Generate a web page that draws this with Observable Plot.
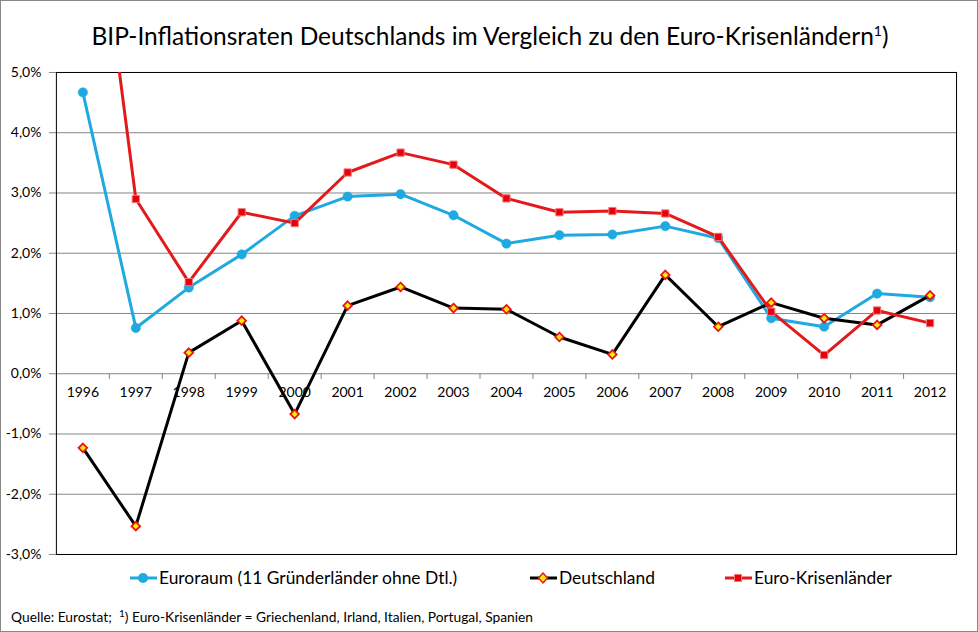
<!DOCTYPE html>
<html>
<head>
<meta charset="utf-8">
<script src="https://cdn.jsdelivr.net/npm/d3@7"></script>
<script src="https://cdn.jsdelivr.net/npm/@observablehq/plot@0.6"></script>
<style>
  html, body { margin: 0; padding: 0; background: #fff; }
  #page { position: relative; width: 978px; height: 632px; box-sizing: border-box; border: 1px solid #888; overflow: hidden; font-family: Lato, "Open Sans", sans-serif; }
  #title { position: absolute; left: 0; top: 20px; width: 978px; text-align: center; font-size: 24.5px; color: #000; }
  #title sup { font-size: 14px; vertical-align: 0; position: relative; top: -9px; }
  #chart { position: absolute; left: 0; top: 62px; }
  .leg { position: absolute; top: 566px; font-size: 17.4px; display: flex; align-items: center; white-space: nowrap; }
  #caption { position: absolute; left: 10px; top: 607px; font-size: 13.8px; white-space: nowrap; }
  #caption sup { font-size: 10px; vertical-align: 0; position: relative; top: -5px; }
</style>
</head>
<body>
<div id="page">
  <div id="title">BIP-Inflationsraten Deutschlands im Vergleich zu den Euro-Krisenländern<sup>1</sup>)</div>
  <div id="chart"></div>
  <div id="caption">Quelle: Eurostat;&nbsp; <sup>1</sup>) Euro-Krisenländer = Griechenland, Irland, Italien, Portugal, Spanien</div>
</div>
<script>
const years = [1996, 1997, 1998, 1999, 2000, 2001, 2002, 2003, 2004, 2005, 2006, 2007, 2008, 2009, 2010, 2011, 2012];
const euroraum = [4.67, 0.76, 1.43, 1.98, 2.62, 2.94, 2.98, 2.63, 2.16, 2.30, 2.31, 2.45, 2.25, 0.92, 0.78, 1.33, 1.27];
const deutschland = [-1.23, -2.53, 0.35, 0.88, -0.67, 1.13, 1.44, 1.09, 1.07, 0.61, 0.32, 1.64, 0.78, 1.18, 0.92, 0.81, 1.30];
const krisen = [9.7, 2.90, 1.52, 2.68, 2.50, 3.34, 3.67, 3.47, 2.91, 2.68, 2.70, 2.66, 2.27, 1.03, 0.31, 1.05, 0.84];
const yTicks = [-3, -2, -1, 0, 1, 2, 3, 4, 5];
const seriesNames = ["Euroraum (11 Gründerländer ohne Dtl.)", "Deutschland", "Euro-Krisenländer"];

const BLUE = "#1fa9e1", RED = "#e31a1c", BLACK = "#000", YELLOW = "#ffee00", GRID = "#868686";

const rows = (vals) => years.map((y, i) => ({year: y, value: vals[i]}));
const dEuro = rows(euroraum), dDe = rows(deutschland), dKr = rows(krisen);
const bounds = years.slice(1).map(y => y - 0.5);
const fmt = v => v.toFixed(1).replace(".", ",") + "%";

const plot = Plot.plot({
  width: 978,
  height: 500,
  marginLeft: 55,
  marginRight: 21,
  marginTop: 9,
  marginBottom: 8,
  x: {type: "linear", domain: [years[0] - 0.5, years[years.length - 1] + 0.5], axis: null},
  y: {domain: [-3, 5], axis: null},
  style: {fontFamily: "Lato, 'Open Sans', sans-serif", fontSize: "14px", color: "#000", background: "transparent"},
  marks: [
    Plot.ruleY(yTicks, {stroke: GRID, strokeWidth: 1}),
    Plot.axisY({ticks: yTicks, tickFormat: fmt, tickSize: 7, tickPadding: 8, stroke: GRID, fontSize: 14, label: null, strokeOpacity: 1}),
    Plot.ruleX(bounds, {x: d => d, y1: 0, y2: -0.095, stroke: GRID}),
    Plot.text(years, {x: d => d, y: 0, text: d => String(d), dy: 19, fontSize: 14, fill: "#000"}),
    Plot.frame({stroke: "#000", strokeWidth: 1}),
    Plot.line(dEuro, {x: "year", y: "value", stroke: BLUE, strokeWidth: 3, clip: true}),
    Plot.dot(dEuro, {x: "year", y: "value", symbol: "circle", r: 4.7, fill: BLUE, stroke: BLUE, strokeWidth: 0.5, clip: true}),
    Plot.line(dDe, {x: "year", y: "value", stroke: BLACK, strokeWidth: 3, clip: true}),
    Plot.dot(dDe, {x: "year", y: "value", symbol: "diamond2", r: 3.9, fill: YELLOW, stroke: "#e8141a", strokeWidth: 1.8, clip: true}),
    Plot.line(dKr, {x: "year", y: "value", stroke: RED, strokeWidth: 3, clip: true}),
    Plot.dot(dKr, {x: "year", y: "value", symbol: "square", r: 4.1, fill: "#e8000b", stroke: "#f07878", strokeWidth: 1, clip: true})
  ]
});
document.getElementById("chart").appendChild(plot);

// legend
const legendItems = [
  {name: seriesNames[0], left: 128, color: BLUE, sym: "circle"},
  {name: seriesNames[1], left: 528, color: BLACK, sym: "diamond"},
  {name: seriesNames[2], left: 723, color: RED, sym: "square"}
];
const page = document.getElementById("page");
for (const it of legendItems) {
  const div = document.createElement("div");
  div.className = "leg";
  div.style.left = it.left + "px";
  let marker;
  if (it.sym === "circle") marker = `<circle cx="14" cy="9" r="5" fill="${BLUE}"/>`;
  else if (it.sym === "diamond") marker = `<path d="M14,4 L18.5,9 L14,14 L9.5,9 Z" fill="${YELLOW}" stroke="#e8141a" stroke-width="1.5"/>`;
  else marker = `<rect x="10.5" y="5.5" width="7" height="7" fill="#e8000b" stroke="#f07878" stroke-width="1"/>`;
  div.innerHTML = `<svg width="29" height="18" style="margin-right:1px"><line x1="1" x2="28" y1="9" y2="9" stroke="${it.color}" stroke-width="3"/>${marker}</svg><span>${it.name}</span>`;
  page.appendChild(div);
}
</script>
</body>
</html>
